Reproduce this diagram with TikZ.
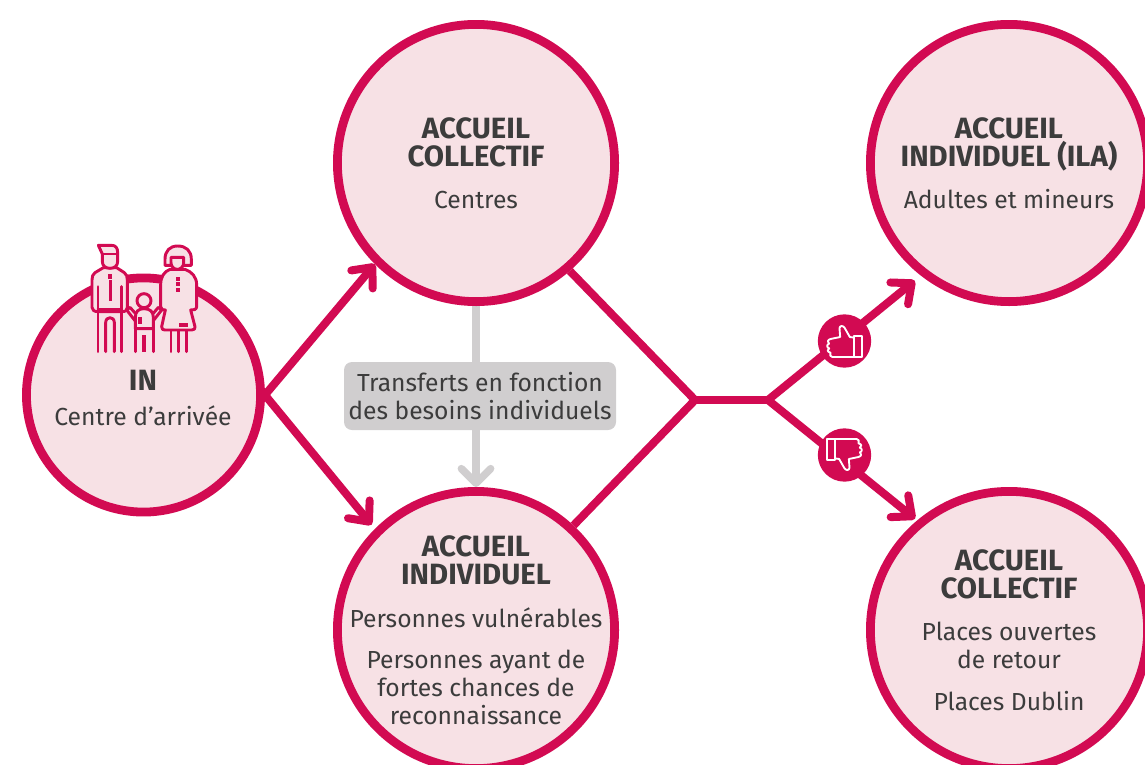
\documentclass[tikz,border=0pt]{standalone}
\usepackage{fontspec}
\setmainfont{Fira Sans}
\usetikzlibrary{positioning}
\usetikzlibrary{arrows.meta}

\definecolor{accmag}{HTML}{D20A52}
\definecolor{accpink}{HTML}{F7E1E5}
\definecolor{accgray}{HTML}{D0CECF}
\definecolor{acctext}{HTML}{3C3C3C}

\tikzset{
    smallcirc/.style={circle, draw=accmag, fill=accpink, line width=6.6pt, minimum size=175.6pt},
    bigcirc/.style={circle, draw=accmag, fill=accpink, line width=6.6pt, minimum size=207.9pt},
    titletxt/.style={text=acctext, align=center, font=\fontsize{22}{21}\selectfont\bfseries},
    bodytxt/.style={text=acctext, align=center, font=\fontsize{18.5}{21}\selectfont},
    flow/.style={draw=accmag, line width=6pt, line join=round},
    flowarrow/.style={flow, -{Straight Barb[round, length=12pt, width=21pt, line width=6pt]}},
    badge/.style={circle, fill=accmag, minimum size=40pt, inner sep=0pt},
    icon/.style={draw=accmag, line width=2.2pt, line join=round, line cap=round},
    iconfill/.style={icon, fill=accpink},
    hand/.style={draw=white, line width=1.4pt, line join=round}
}

% hand of the thumb icon, in zoomed units round the badge centre
\newcommand{\thumbhand}{%
    \draw[hand] (29,-14) rectangle (52,48);
    \draw[hand] (29,-10) -- (16,-12) -- (0,-40) .. controls (-6,-48) and (-14,-46) .. (-15,-38)
        -- (-13,-12) -- (-42,-6) .. controls (-52,-4) and (-52,6) .. (-46,8)
        .. controls (-54,10) and (-54,20) .. (-46,22)
        .. controls (-53,25) and (-52,33) .. (-42,35)
        .. controls (-46,42) and (-42,48) .. (-36,48) -- (29,48);
}

\begin{document}
\begin{tikzpicture}[x=0.75pt,y=-0.75pt]
    \useasboundingbox (0,0) rectangle (1145,764);

    \coordinate (join) at (695,400);
    \coordinate (fork) at (768,400);

    % connectors first, circles go on top
    \node[bigcirc, draw=none, fill=none] (coll) at (476,163) {};
    \node[bigcirc, draw=none, fill=none] (indiv) at (476,630) {};
    \node[bigcirc, draw=none, fill=none] (ila) at (1009,163) {};
    \node[bigcirc, draw=none, fill=none] (retour) at (1009,630) {};
    \node[smallcirc, draw=none, fill=none] (in) at (143.5,395) {};

    \draw[accgray, line width=5.6pt, line cap=round, -{Straight Barb[round, length=11pt, width=22pt, line width=5.6pt]}]
        (coll.south) -- (indiv.north);
    \draw[flow] (coll.-49) -- (join) -- (indiv.47);
    \draw[flow] (join) -- (fork);
    \draw[flowarrow, shorten >=6pt] (fork) -- (ila.-128);
    \draw[flowarrow, shorten >=2pt] (fork) -- (retour.130);
    \draw[flowarrow] (in.east) -- (coll.-135);
    \draw[flowarrow, shorten >=4pt] (in.east) -- (indiv.135);

    \node[smallcirc] at (in) {};
    \node[bigcirc] at (coll) {};
    \node[bigcirc] at (indiv) {};
    \node[bigcirc] at (ila) {};
    \node[bigcirc] at (retour) {};

    \node[titletxt] (intitle) at (143,380) {IN};
    \node[bodytxt] (inbody) at (143,415.5) {Centre d’arrivée};

    \node[titletxt] (colltitle) at (476,142.5) {ACCUEIL\\COLLECTIF};
    \node[bodytxt] (collbody) at (476,199.5) {Centres};

    \node[titletxt] (indivtitle) at (476,560.5) {ACCUEIL\\INDIVIDUEL};
    \node[bodytxt] (indivbody) at (476,617.5) {Personnes vulnérables};
    \node[bodytxt] (indivbodyb) at (476,687.5) {Personnes ayant de\\fortes chances de\\reconnaissance};

    \node[titletxt] (ilatitle) at (1009,144.5) {ACCUEIL\\INDIVIDUEL (ILA)};
    \node[bodytxt] (ilabody) at (1009,199.5) {Adultes et mineurs};

    \node[titletxt] (retourtitle) at (1009,574.5) {ACCUEIL\\COLLECTIF};
    \node[bodytxt] (retourbody) at (1009,645.5) {Places ouvertes\\de retour};
    \node[bodytxt] (retourbodyb) at (1009,701.5) {Places Dublin};

    \node[bodytxt, fill=accgray, rounded corners=6pt, minimum width=204pt, minimum height=51pt, inner sep=0pt] (transfer) at (480,396)
        {Transferts en fonction\\des besoins individuels};

    \node[badge] (up) at (844.5,341) {};
    \node[badge] (down) at (844.5,455) {};
    \begin{scope}[shift={(up)},x=0.25pt,y=-0.25pt]
        \thumbhand
    \end{scope}
    \begin{scope}[shift={(down)},x=-0.25pt,y=0.25pt]
        \thumbhand
    \end{scope}

    % family, in zoomed units of the icon
    \begin{scope}[shift={(70,230)},x=0.25pt,y=-0.25pt]
        % man
        \draw[iconfill] (100,113) -- (75,128) .. controls (68,133) and (66,140) .. (66,150) -- (66,232)
            .. controls (66,240) and (72,245) .. (85,245) -- (155,245)
            .. controls (168,245) and (172,240) .. (172,232) -- (172,150)
            .. controls (172,140) and (170,133) .. (163,128) -- (140,113) -- cycle;
        \draw[iconfill] (97,72) -- (85,46) -- (125,46) .. controls (138,46) and (143,55) .. (143,68)
            -- (143,95) .. controls (143,108) and (132,115) .. (120,115)
            .. controls (108,115) and (97,108) .. (97,95) -- cycle;
        \draw[icon] (97,72) -- (143,72);
        \draw[icon] (84,170) -- (84,365);
        \draw[icon] (155,170) -- (155,365);
        \draw[icon] (84,237) -- (155,237);
        \draw[icon] (107,365) -- (107,278) .. controls (107,258) and (133,258) .. (133,278) -- (133,365);
        \fill[accmag] (114,132) rectangle (126,146);
        \fill[accmag] (116,150) rectangle (125,212);
        % child
        \draw[icon] (195,272) -- (170,240) -- (180,232) -- (196,250);
        \draw[icon] (250,272) -- (275,240) -- (265,232) -- (250,250);
        \draw[iconfill] (196,262) .. controls (196,245) and (205,236) .. (222,236)
            .. controls (240,236) and (250,245) .. (250,262) -- (250,296) -- (196,296) -- cycle;
        \draw[iconfill] (222,212) circle [radius=21];
        \draw[icon] (197,296) -- (197,365);
        \draw[icon] (250,296) -- (250,365);
        \fill[accmag] (216,315) rectangle (228,365);
        \fill[accmag] (205,262) rectangle (216,282);
        % woman
        \draw[icon] (303,300) -- (303,365);
        \draw[icon] (325,300) -- (325,365);
        \draw[icon] (349,300) -- (349,365);
        \draw[iconfill] (300,118) .. controls (282,125) and (272,140) .. (272,165) -- (272,230)
            .. controls (272,238) and (280,242) .. (286,240) -- (275,290)
            .. controls (274,298) and (280,300) .. (285,300) -- (365,300)
            .. controls (372,300) and (377,296) .. (375,290) -- (362,240)
            .. controls (370,242) and (380,238) .. (380,230) -- (380,165)
            .. controls (380,140) and (365,125) .. (345,118) -- cycle;
        \draw[iconfill] (285,106) -- (285,88) .. controls (285,62) and (300,48) .. (323,48)
            .. controls (348,48) and (364,62) .. (364,88) -- (364,106) -- cycle;
        \draw[iconfill] (303,82) -- (341,82) -- (341,98) .. controls (341,110) and (332,118) .. (322,118)
            .. controls (312,118) and (303,110) .. (303,98) -- cycle;
        \fill[accmag] (317,140) rectangle (330,152);
        \fill[accmag] (317,157) rectangle (330,168);
        \fill[accmag] (317,174) rectangle (330,186);
        \fill[accmag] (327,280) rectangle (354,291);
    \end{scope}
\end{tikzpicture}
\end{document}
